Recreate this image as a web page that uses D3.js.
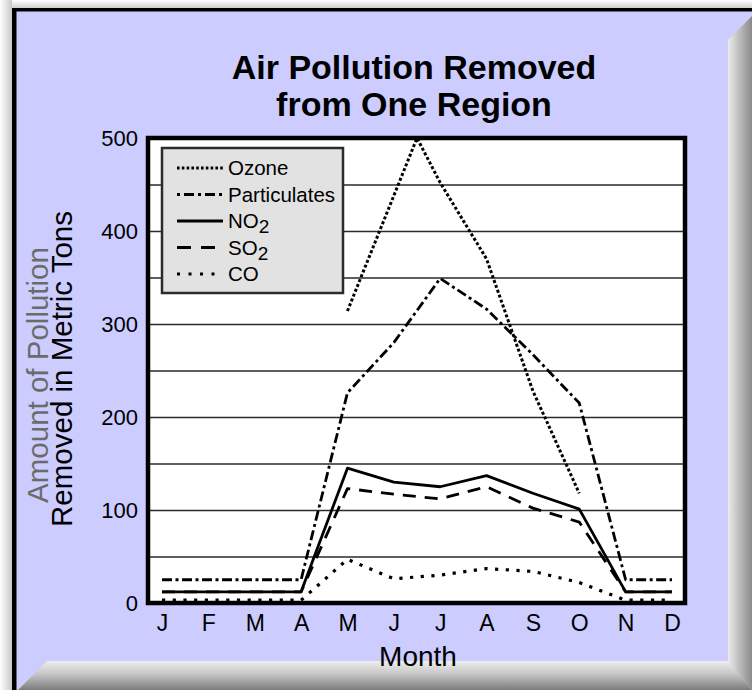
<!DOCTYPE html>
<html>
<head>
<meta charset="utf-8">
<script src="https://cdn.jsdelivr.net/npm/d3@7"></script>
<style>
body { margin: 0; background: #fff; }
svg { display: block; font-family: "Liberation Sans", Arial, Helvetica, sans-serif; }
</style>
</head>
<body>
<svg id="chart" width="752" height="690"></svg>
<script>
// values (metric tons)
var months = ['J', 'F', 'M', 'A', 'M', 'J', 'J', 'A', 'S', 'O', 'N', 'D'];
var monthIndex = d3.range(12);
var ozoneMonths = [4, 5.5, 6, 7, 8, 9];
var ozone = [314, 500, 452, 370, 228, 118];
var particulates = [25, 25, 25, 25, 226, 280, 349, 316, 267, 215, 25, 25];
var no2 = [12, 12, 12, 12, 145, 130, 125, 137, 118, 101, 12, 12];
var so2 = [12, 12, 12, 12, 123, 117, 112, 125, 102, 87, 12, 12];
var co = [3, 3, 3, 3, 47, 26, 30, 37, 34, 22, 3, 3];
var yTicks = [0, 100, 200, 300, 400, 500];
var gridTicks = [50, 100, 150, 200, 250, 300, 350, 400, 450];
var legendNames = ['Ozone', 'Particulates', 'NO', 'SO', 'CO'];
var legendSubs = ['', '', '2', '2', ''];

var svg = d3.select('#chart');
var W = 752, H = 690;

var defs = svg.append('defs');
function grad(id, x2, y2, stops) {
    var g = defs.append('linearGradient').attr('id', id)
        .attr('x1', 0).attr('y1', 0).attr('x2', x2).attr('y2', y2);
    stops.forEach(function (s) {
        g.append('stop').attr('offset', s[0]).attr('stop-color', s[1]);
    });
}
grad('bevelR', 1, 0, [[0, '#ececec'], [0.4, '#c4c4c4'], [1, '#8a8a8a']]);
grad('bevelB', 0, 1, [[0, '#eeeeee'], [0.45, '#c6c6c6'], [1, '#7c7c7c']]);
grad('shadeL', 1, 0, [[0, '#ffffff'], [1, '#c8c8c8']]);
grad('shadeT', 0, 1, [[0, '#ffffff'], [1, '#cfcfcf']]);

// frame
svg.append('rect').attr('x', 0).attr('y', 0).attr('width', 12).attr('height', H).attr('fill', 'url(#shadeL)');
svg.append('rect').attr('x', 12).attr('y', 0).attr('width', W - 12).attr('height', 8).attr('fill', 'url(#shadeT)');
svg.append('rect').attr('x', 12).attr('y', 8).attr('width', W - 12).attr('height', H - 8).attr('fill', '#ccccff');
svg.append('polygon').attr('points', '728,40 752,16 752,690 728,661').attr('fill', 'url(#bevelR)');
svg.append('polygon').attr('points', '18,690 47,661 728,661 752,690').attr('fill', 'url(#bevelB)');
svg.append('rect').attr('x', 12).attr('y', 8).attr('width', W - 12).attr('height', 3.5).attr('fill', '#000');
svg.append('rect').attr('x', 12).attr('y', 8).attr('width', 4.5).attr('height', H - 8).attr('fill', '#000');

// title
var title = svg.append('text')
    .attr('text-anchor', 'middle')
    .attr('font-size', 34)
    .attr('font-weight', 'bold')
    .attr('fill', '#000');
title.append('tspan').attr('x', 414).attr('y', 79).text('Air Pollution Removed');
title.append('tspan').attr('x', 414).attr('y', 116).text('from One Region');

var plot = { left: 148, right: 685, top: 138, bottom: 603 };

var x = d3.scaleLinear().domain([0, 11]).range([162, 672]);
var y = d3.scaleLinear().domain([0, 500]).range([plot.bottom, plot.top]);

svg.append('rect')
    .attr('x', plot.left).attr('y', plot.top)
    .attr('width', plot.right - plot.left).attr('height', plot.bottom - plot.top)
    .attr('fill', '#fff');

// grid lines
var grid = svg.append('g')
    .attr('transform', 'translate(' + plot.left + ',0)')
    .call(d3.axisLeft(y).tickValues(gridTicks).tickSize(-(plot.right - plot.left)).tickFormat(''));
grid.select('.domain').remove();
grid.selectAll('line').attr('stroke', '#2a2a2a').attr('stroke-width', 1.4);

// y axis labels
var yAxis = svg.append('g')
    .attr('transform', 'translate(' + plot.left + ',0)')
    .call(d3.axisLeft(y).tickValues(yTicks).tickSize(0).tickPadding(10));
yAxis.select('.domain').remove();
yAxis.selectAll('text')
    .attr('font-family', '"Liberation Sans", Arial, sans-serif')
    .attr('font-size', 22)
    .attr('fill', '#000');

// x axis labels
var xAxis = svg.append('g')
    .attr('transform', 'translate(0,' + plot.bottom + ')')
    .call(d3.axisBottom(x).tickValues(monthIndex).tickSize(0).tickPadding(12)
        .tickFormat(function (i) { return months[i]; }));
xAxis.select('.domain').remove();
xAxis.selectAll('text')
    .attr('font-family', '"Liberation Sans", Arial, sans-serif')
    .attr('font-size', 23)
    .attr('fill', '#000');

// axis titles
svg.append('text')
    .attr('text-anchor', 'middle')
    .attr('font-size', 28)
    .attr('x', 418).attr('y', 666)
    .text('Month');

svg.append('text')
    .attr('text-anchor', 'middle')
    .attr('font-size', 29.5)
    .attr('fill', '#6b6b6b')
    .attr('transform', 'translate(48,375) rotate(-90)')
    .text('Amount of Pollution');

svg.append('text')
    .attr('text-anchor', 'middle')
    .attr('font-size', 29.5)
    .attr('fill', '#000')
    .attr('transform', 'translate(72,369) rotate(-90)')
    .text('Removed in Metric Tons');

// series
var styles = {
    ozone: { dash: '3 2.2', width: 3 },
    particulates: { dash: '10 3.5 3 3.5', width: 2.8 },
    no2: { dash: null, width: 2.8 },
    so2: { dash: '13 9', width: 2.8 },
    co: { dash: '3.2 7.5', width: 3.2 }
};

var series = [
    { key: 'co', xs: monthIndex, ys: co },
    { key: 'so2', xs: monthIndex, ys: so2 },
    { key: 'no2', xs: monthIndex, ys: no2 },
    { key: 'particulates', xs: monthIndex, ys: particulates },
    { key: 'ozone', xs: ozoneMonths, ys: ozone }
];

var line = d3.line()
    .x(function (d) { return x(d[0]); })
    .y(function (d) { return y(d[1]); });

series.forEach(function (s) {
    var pts = s.xs.map(function (m, i) { return [m, s.ys[i]]; });
    svg.append('path')
        .datum(pts)
        .attr('d', line)
        .attr('fill', 'none')
        .attr('stroke', '#000')
        .attr('stroke-width', styles[s.key].width)
        .attr('stroke-dasharray', styles[s.key].dash)
        .attr('stroke-linejoin', 'round');
});

// plot border
svg.append('rect')
    .attr('x', plot.left).attr('y', plot.top)
    .attr('width', plot.right - plot.left).attr('height', plot.bottom - plot.top)
    .attr('fill', 'none')
    .attr('stroke', '#000')
    .attr('stroke-width', 4.5);

// legend
var legend = svg.append('g');
legend.append('rect')
    .attr('x', 162).attr('y', 148)
    .attr('width', 181).attr('height', 145)
    .attr('fill', '#e2e2e2')
    .attr('stroke', '#2b2b2b')
    .attr('stroke-width', 2.5);

var legendKeys = ['ozone', 'particulates', 'no2', 'so2', 'co'];
var legendDash = { ozone: '2.6 2.2', particulates: '3 4 10 4', no2: null, so2: '14 10', co: '3 8.5' };
var rowY = d3.scalePoint().domain(legendKeys).range([168, 274]);

legendKeys.forEach(function (k, i) {
    var ly = rowY(k);
    legend.append('line')
        .attr('x1', 177).attr('x2', 223)
        .attr('y1', ly).attr('y2', ly)
        .attr('stroke', '#000')
        .attr('stroke-width', 3.2)
        .attr('stroke-dasharray', legendDash[k]);
    var t = legend.append('text')
        .attr('x', 228).attr('y', ly + 7)
        .attr('font-size', 20.5)
        .attr('fill', '#000')
        .text(legendNames[i]);
    if (legendSubs[i]) {
        t.append('tspan').attr('dy', 5).attr('font-size', 19).text(legendSubs[i]);
    }
});
</script>
</body>
</html>
